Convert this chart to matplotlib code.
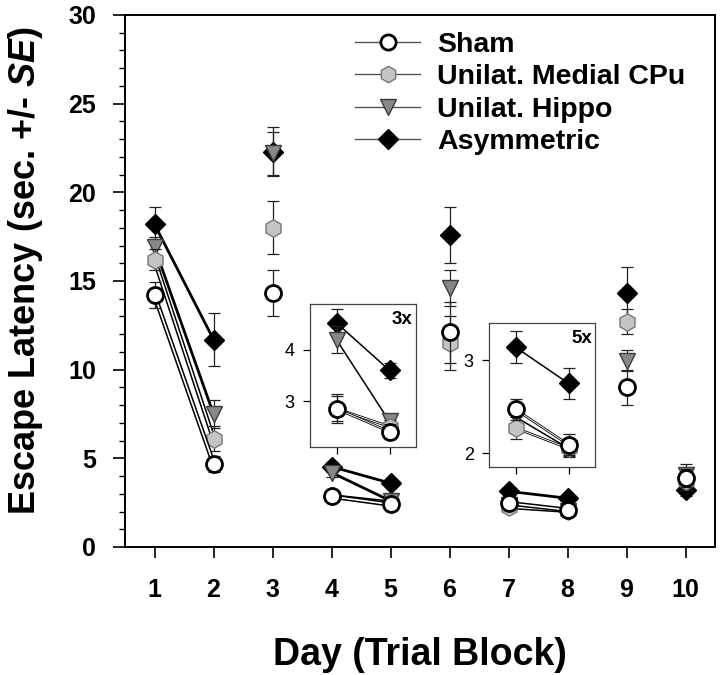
import matplotlib
matplotlib.use("Agg")
import matplotlib.pyplot as plt
from matplotlib.lines import Line2D
from matplotlib.ticker import MultipleLocator
import numpy as np

plt.rcParams['font.family'] = ['Liberation Sans', 'DejaVu Sans']
plt.rcParams['mathtext.fontset'] = 'custom'
plt.rcParams['mathtext.it'] = 'Liberation Sans:italic:bold'
plt.rcParams['mathtext.rm'] = 'Liberation Sans:bold'

# ---------------- data ----------------
days = [1, 2, 3, 4, 5, 6, 7, 8, 9, 10]
day_labels = ['1', '2', '3', '4', '5', '6', '7', '8', '9', '10']
connected_pairs = [(1, 2), (4, 5), (7, 8)]

series_names = ['Sham', 'Unilat. Medial CPu', 'Unilat. Hippo', 'Asymmetric']

sham = [14.2, 4.7, 14.3, 2.85, 2.4, 12.1, 2.47, 2.09, 9.0, 3.9]
sham_se = [0.75, 0.45, 1.3, 0.25, 0.15, 1.7, 0.11, 0.11, 1.0, 0.5]

medial_cpu = [16.2, 6.1, 18.0, 2.85, 2.5, 11.5, 2.27, 2.05, 12.7, 3.7]
medial_cpu_se = [0.6, 0.7, 1.5, 0.28, 0.12, 1.5, 0.12, 0.09, 0.7, 0.5]

hippo = [16.9, 7.5, 22.2, 4.2, 2.6, 14.6, 2.39, 2.05, 10.5, 4.05]
hippo_se = [0.6, 0.8, 1.2, 0.26, 0.1, 1.0, 0.12, 0.08, 0.6, 0.65]

asym = [18.2, 11.7, 22.3, 4.53, 3.6, 17.6, 3.14, 2.75, 14.3, 3.2]
asym_se = [1.0, 1.5, 1.4, 0.28, 0.14, 1.6, 0.17, 0.17, 1.5, 0.3]

# ---------------- styles ----------------
styles = {
    'Sham': dict(marker='o', ms=11.5, mfc='white', mec='black', mew=2.0, outlined=True),
    'Unilat. Medial CPu': dict(marker='h', ms=12.5, mfc='#c4c4c4', mec='#777777', mew=1.0, outlined=True),
    'Unilat. Hippo': dict(marker='v', ms=12, mfc='#888888', mec='#3c3c3c', mew=1.0, outlined=False),
    'Asymmetric': dict(marker='D', ms=10.5, mfc='black', mec='black', mew=1.0, outlined=False),
}
data = {
    'Sham': (sham, sham_se),
    'Unilat. Medial CPu': (medial_cpu, medial_cpu_se),
    'Unilat. Hippo': (hippo, hippo_se),
    'Asymmetric': (asym, asym_se),
}
draw_order = ['Asymmetric', 'Unilat. Hippo', 'Unilat. Medial CPu', 'Sham']


def draw(ax, lw_scale=1.0, ms_scale=1.0, cap=4.5):
    x = np.array(days)
    for k, name in enumerate(draw_order):
        vals, se = data[name]
        vals = np.array(vals); se = np.array(se)
        st = styles[name]
        z = 3 + k
        for a, b in connected_pairs:
            idx = [days.index(a), days.index(b)]
            if st['outlined']:
                ax.plot(x[idx], vals[idx], color='black', lw=3.4 * lw_scale,
                        solid_capstyle='butt', zorder=z)
                ax.plot(x[idx], vals[idx], color='white', lw=1.2 * lw_scale,
                        solid_capstyle='butt', zorder=z + 0.01)
            else:
                ax.plot(x[idx], vals[idx], color='black', lw=2.0 * lw_scale, zorder=z)
        ax.errorbar(x, vals, yerr=se, fmt='none', ecolor='#222222',
                    elinewidth=0.9, capsize=cap, capthick=0.9, zorder=z + 0.02)
        ax.plot(x, vals, ls='none', marker=st['marker'], ms=st['ms'] * ms_scale,
                mfc=st['mfc'], mec=st['mec'], mew=st['mew'], zorder=z + 0.03)


fig = plt.figure(figsize=(7.2, 6.75), dpi=100)
ax = fig.add_axes([125 / 720, 1 - 547 / 675, (715 - 125) / 720, (547 - 15) / 675])

draw(ax)

ax.set_xlim(0.5, 10.5)
ax.set_ylim(0, 30)
ax.set_xticks(days)
ax.set_xticklabels(day_labels)
ax.yaxis.set_major_locator(MultipleLocator(5))
ax.yaxis.set_minor_locator(MultipleLocator(1))
ax.tick_params(axis='y', which='major', direction='out', length=9, width=1.2,
               labelsize=18, pad=12)
ax.tick_params(axis='y', which='minor', direction='out', length=4.5, width=1.0)
ax.tick_params(axis='x', which='major', direction='out', length=8, width=1.2,
               labelsize=18, pad=14)
for lab in ax.get_xticklabels() + ax.get_yticklabels():
    lab.set_fontweight('bold')
for sp in ax.spines.values():
    sp.set_linewidth(1.4)

ax.set_xlabel('Day (Trial Block)', fontsize=27, fontweight='bold')
ax.xaxis.set_label_coords(0.5, -0.169)
ax.set_ylabel('Escape Latency (sec. +/- $\\it{SE}$)', fontsize=26, fontweight='bold')
ax.yaxis.set_label_coords(-0.135, 0.52)

# legend
handles = []
for name in series_names:
    st = styles[name]
    handles.append(Line2D([], [], color='#555555', lw=1.0, marker=st['marker'],
                          ms=st['ms'] * 0.95, mfc=st['mfc'], mec=st['mec'], mew=st['mew']))
leg = ax.legend(handles, series_names, loc='upper left', bbox_to_anchor=(0.39, 0.968),
                frameon=False, borderpad=0, borderaxespad=0, handlelength=2.28,
                handletextpad=0.6, labelspacing=0.22, prop=dict(size=20.5, weight='bold'))

# insets
insets = [
    dict(rect=[310 / 720, 1 - 447 / 675, 106 / 720, 143 / 675], xlim=(3.5, 5.5),
         ylim=(2.1, 4.9), xt=[4, 5], yt=[3, 4], label='3x'),
    dict(rect=[489 / 720, 1 - 467 / 675, 106 / 720, 144 / 675], xlim=(6.5, 8.5),
         ylim=(1.85, 3.4), xt=[7, 8], yt=[2, 3], label='5x'),
]
for ins in insets:
    iax = fig.add_axes(ins['rect'])
    draw(iax, lw_scale=0.55, ms_scale=1.0, cap=4.5)
    iax.set_xlim(*ins['xlim'])
    iax.set_ylim(*ins['ylim'])
    iax.set_xticks(ins['xt'])
    iax.set_xticklabels([])
    iax.set_yticks(ins['yt'])
    iax.tick_params(direction='out', length=5, width=0.9, labelsize=13, pad=6)
    for sp in iax.spines.values():
        sp.set_linewidth(0.9)
        sp.set_color('#444444')
    iax.text(0.97, 0.95, ins['label'], transform=iax.transAxes, ha='right', va='top',
             fontsize=13.5, fontweight='bold')

fig.savefig('out.png', dpi=100)
